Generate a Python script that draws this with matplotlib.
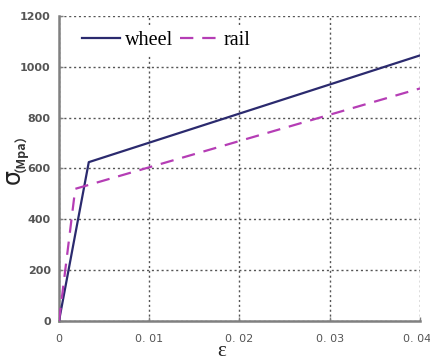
import matplotlib
matplotlib.use("Agg")
import matplotlib.pyplot as plt
from matplotlib.transforms import ScaledTranslation

# data
wheel_strain = [0.0, 0.0033, 0.04]
wheel_stress = [0, 625, 1045]
rail_strain = [0.0, 0.0018, 0.04]
rail_stress = [0, 520, 915]
xticks = [0, 0.01, 0.02, 0.03, 0.04]
xticklabels = ["0", "0. 01", "0. 02", "0. 03", "0. 04"]
yticks = [0, 200, 400, 600, 800, 1000, 1200]
yticklabels = ["0", "200", "400", "600", "800", "1000", "1200"]

fig = plt.figure(figsize=(4.31, 3.61), dpi=100)
ax = fig.add_axes([59/431, 1-321/361, (420-59)/431, (321-16)/361])

ax.plot(wheel_strain, wheel_stress, color="#2b2a6e", lw=1.6, label="wheel", zorder=3)
ax.plot(rail_strain, rail_stress, color="#b53db5", lw=1.6, ls=(0, (6, 4)), label="rail", zorder=3)

ax.set_xlim(0, 0.04)
ax.set_ylim(0, 1200)
ax.set_xticks(xticks)
ax.set_xticklabels(xticklabels, family="DejaVu Sans", fontsize=8, color="#555555")
ax.set_yticks(yticks)
ax.set_yticklabels(yticklabels, family="DejaVu Sans", fontsize=8, color="#555555", fontweight="bold")
ax.tick_params(direction="in", length=3, color="#808080", width=1)
ax.tick_params(axis="x", pad=9)
ax.tick_params(axis="y", pad=6)
last = ax.get_xticklabels()[-1]
last.set_transform(last.get_transform() + ScaledTranslation(-3/100, 0, fig.dpi_scale_trans))

ax.grid(True, ls=(0, (1.5, 2)), color="#555555", lw=1)
for s in ["top", "right"]:
    ax.spines[s].set_visible(False)
for s in ["left", "bottom"]:
    ax.spines[s].set_color("#808080")
    ax.spines[s].set_linewidth(1.8)

leg = ax.legend(loc="upper left", bbox_to_anchor=(0.035, 0.985), ncol=2, frameon=True,
                prop={"family": "Liberation Serif", "size": 14.5}, handlelength=1.9,
                columnspacing=0.35, handletextpad=0.25, borderaxespad=0.2, borderpad=0.3)
leg.get_frame().set_facecolor("white")
leg.get_frame().set_edgecolor("none")
leg.get_frame().set_alpha(1)
leg.get_frame().set_boxstyle("square", pad=0)

fig.text(222/431, 1-352/361, "ε", family="Liberation Serif", fontsize=15, ha="center", va="center", color="#222222")
fig.text(13/431, 1-177/361, "σ", family="DejaVu Sans", fontsize=17, ha="center", va="center", rotation=90, color="#222222")
fig.text(14/431, 1-146/361, "（Mpa）", family=["Noto Sans CJK SC", "DejaVu Sans"], fontsize=9, ha="center", va="center", rotation=90, color="#333333", fontweight="bold")

fig.savefig("out.png", dpi=100)
